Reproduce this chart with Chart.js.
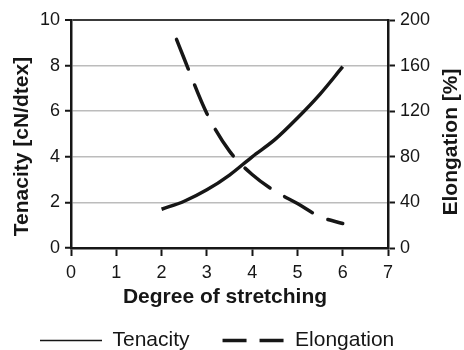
<!DOCTYPE html>
<html>
<head>
<meta charset="utf-8">
<script src="https://cdn.jsdelivr.net/npm/chart.js@4.4.1/dist/chart.umd.min.js"></script>
<style>
  html, body { margin: 0; padding: 0; overflow: hidden; background: #fff; }
  #wrap { width: 464px; height: 361px; }
</style>
</head>
<body>
<div id="wrap"><canvas id="chart"></canvas></div>
<script>
// values
const stretchTenacity = [2, 2.5, 3, 3.5, 4, 4.5, 5, 5.5, 6];
const tenacity = [1.7, 2.05, 2.55, 3.2, 4.0, 4.75, 5.7, 6.75, 7.95];
const stretchElongation = [2.33, 2.5, 3, 3.5, 4, 4.5, 5, 5.5, 6];
const elongation = [183, 166, 118, 85, 64.5, 50, 39, 27.5, 21.5];

// labelled ticks
const leftLabels = [0, 2, 4, 6, 8, 10];
const rightLabels = [0, 40, 80, 120, 160, 200];

const xTitle = 'Degree of stretching';
const leftTitle = 'Tenacity [cN/dtex]';
const rightTitle = 'Elongation [%]';

const ink = '#161616';
const gridGrey = '#bcbcbc';
const fontFamily = '"Liberation Sans", Arial, Helvetica, sans-serif';

const toPoints = (xs, ys) => xs.map((x, i) => ({ x, y: ys[i] }));

// y titles both read bottom-to-top, so draw them ourselves
const axisTitles = {
  id: 'axisTitles',
  afterDraw(chart) {
    const ctx = chart.ctx;
    ctx.save();
    ctx.fillStyle = ink;
    ctx.font = 'bold 21px ' + fontFamily;
    ctx.textAlign = 'center';
    ctx.textBaseline = 'middle';
    ctx.fillText(xTitle, 225, 297);
    ctx.translate(22, 146.5);
    ctx.rotate(-Math.PI / 2);
    ctx.fillText(leftTitle, 0, 0);
    ctx.restore();
    ctx.save();
    ctx.fillStyle = ink;
    ctx.font = 'bold 21px ' + fontFamily;
    ctx.textAlign = 'center';
    ctx.textBaseline = 'middle';
    ctx.translate(451, 142);
    ctx.rotate(-Math.PI / 2);
    ctx.fillText(rightTitle, 0, 0);
    ctx.restore();
  }
};

const tickFont = { family: fontFamily, size: 18 };

new Chart(document.getElementById('chart'), {
  type: 'line',
  data: {
    datasets: [{
      label: 'Tenacity',
      data: toPoints(stretchTenacity, tenacity),
      yAxisID: 'y',
      borderColor: ink,
      borderWidth: 3.5,
      cubicInterpolationMode: 'monotone',
      pointRadius: 0,
      fill: false,
    }, {
      label: 'Elongation',
      data: toPoints(stretchElongation, elongation),
      yAxisID: 'y2',
      borderColor: ink,
      borderWidth: 3.5,
      borderDash: [32, 17],
      borderCapStyle: 'round',
      cubicInterpolationMode: 'monotone',
      pointRadius: 0,
      fill: false,
    }],
  },
  options: {
    responsive: true,
    maintainAspectRatio: false,
    animation: false,
    layout: { padding: { top: 20, left: 7, right: 0, bottom: 0 } },
    scales: {
      x: {
        type: 'linear',
        min: 0,
        max: 7,
        ticks: { stepSize: 1, color: ink, font: tickFont, padding: 6, maxRotation: 0 },
        grid: { drawOnChartArea: false, tickLength: 8, tickColor: ink, tickWidth: 2 },
        border: { color: ink, width: 2.5 },
        afterFit: (scale) => { scale.height = 49; },
      },
      y: {
        position: 'left',
        min: 0,
        max: 10,
        ticks: {
          stepSize: 1,
          color: ink,
          font: tickFont,
          padding: 5,
          callback: (v) => leftLabels.includes(v) ? String(v) : '',
        },
        grid: {
          color: (c) => {
            const v = c.tick && c.tick.value;
            if (v === 10) return '#3a3a3a';
            if (v > 0 && v % 2 === 0) return gridGrey;
            return 'rgba(0,0,0,0)';
          },
          lineWidth: (c) => (c.tick && c.tick.value === 10) ? 2 : 1.5,
          tickLength: 6,
          tickColor: ink,
          tickWidth: 2,
        },
        border: { color: ink, width: 2.5 },
        afterFit: (scale) => { scale.width = 64; },
      },
      y2: {
        position: 'right',
        min: 0,
        max: 200,
        ticks: {
          stepSize: 20,
          color: ink,
          font: tickFont,
          padding: 5,
          callback: (v) => rightLabels.includes(v) ? String(v) : '',
        },
        grid: { drawOnChartArea: false, tickLength: 7, tickColor: ink, tickWidth: 2 },
        border: { color: ink, width: 2.5 },
        afterFit: (scale) => { scale.width = 76; },
      },
    },
    plugins: {
      tooltip: { enabled: false },
      legend: {
        position: 'bottom',
        align: 'start',
        labels: {
          color: ink,
          font: { family: fontFamily, size: 21 },
          usePointStyle: true,
          pointStyle: 'line',
          pointStyleWidth: 62,
          padding: 33,
          generateLabels: (chart) => {
            const items = Chart.defaults.plugins.legend.labels.generateLabels(chart);
            items.forEach((it) => {
              it.pointStyle = 'line';
              it.lineCap = 'butt';
              if (it.text === 'Tenacity') { it.lineWidth = 1.6; it.lineDash = []; }
              else { it.lineWidth = 3.5; it.lineDash = [24, 13]; }
            });
            return items;
          },
        },
      },
    },
  },
  plugins: [axisTitles],
});
</script>
</body>
</html>
